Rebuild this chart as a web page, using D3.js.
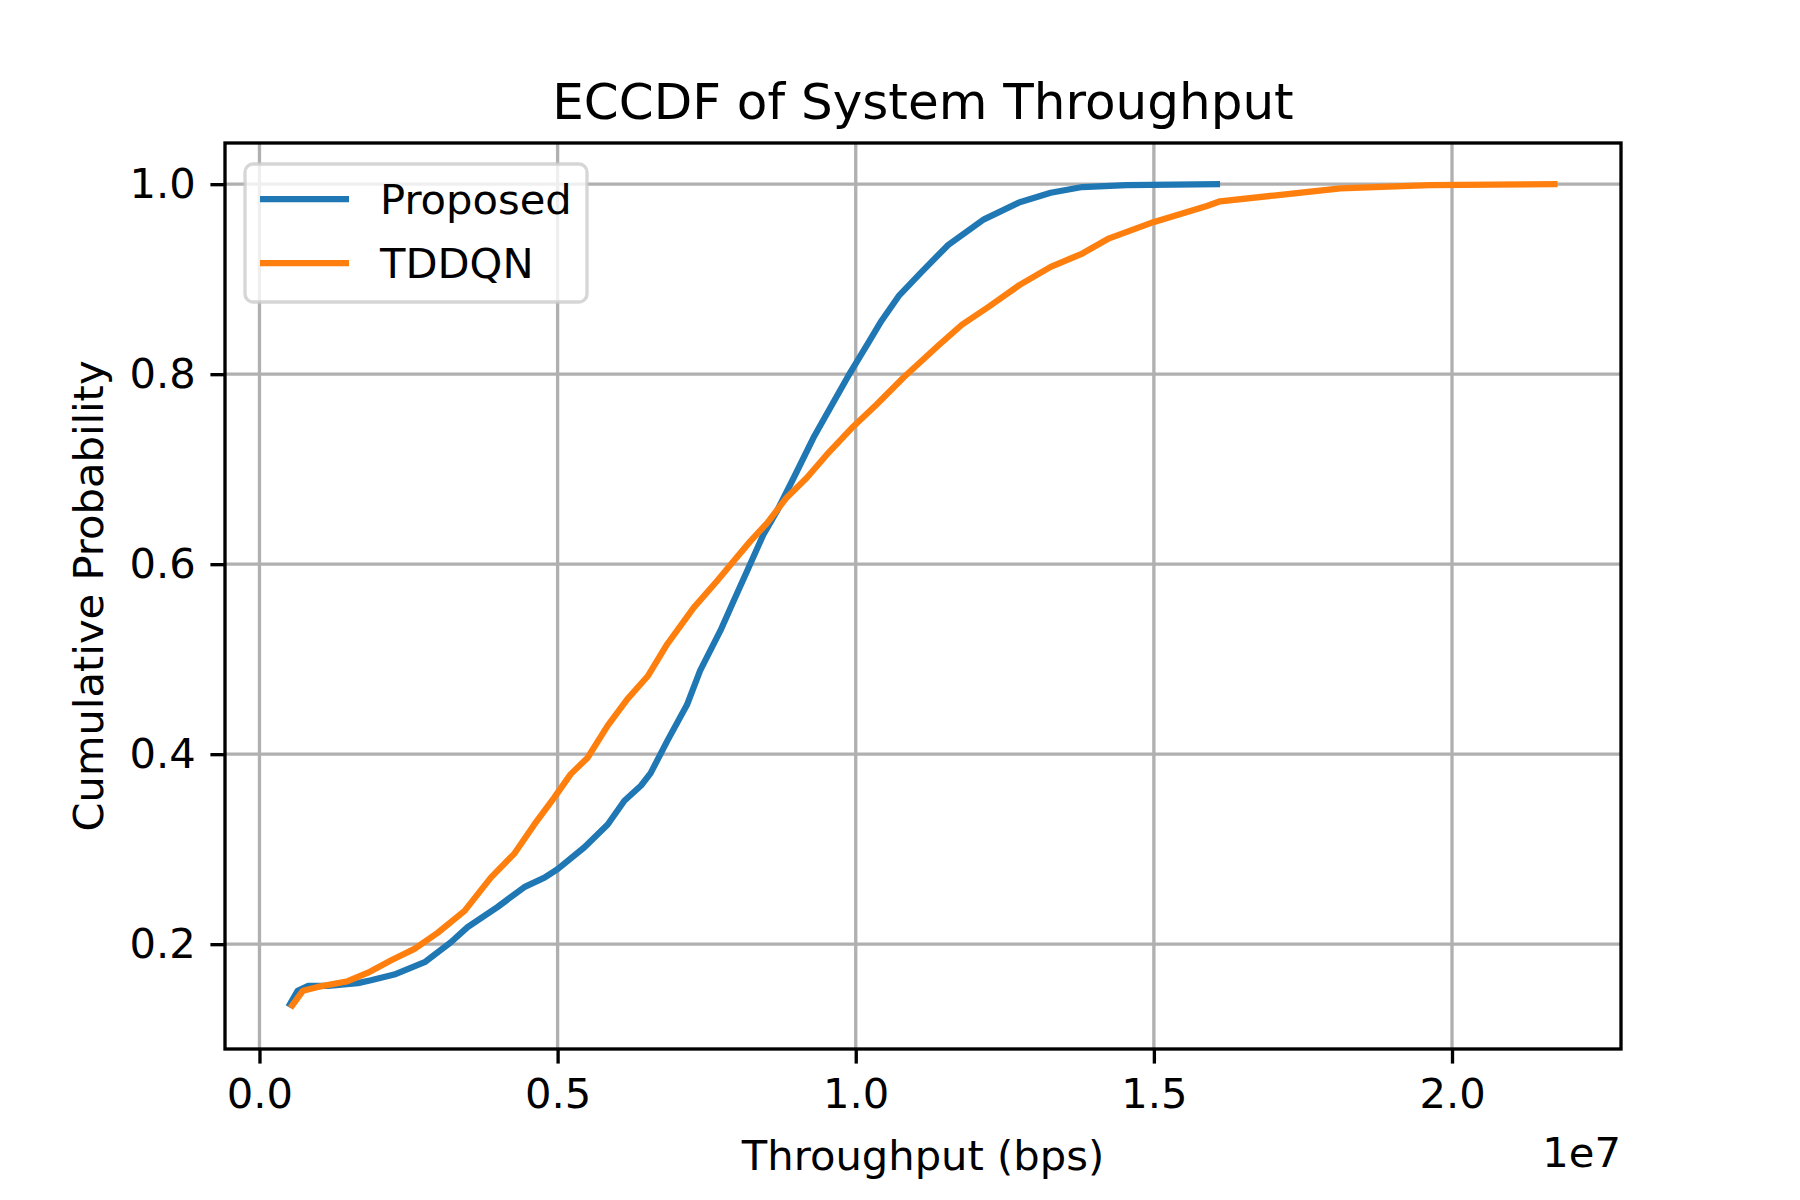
<!DOCTYPE html>
<html>
<head>
<meta charset="utf-8">
<script src="https://cdn.jsdelivr.net/npm/d3@7"></script>
<style>
  body { margin: 0; background: #fff; }
  text { font-family: "DejaVu Sans", sans-serif; fill: #000; }
</style>
</head>
<body>
<svg id="chart" width="1800" height="1200"></svg>
<script>
// throughput in units of 1e7 bps (the axis offset), probability
const proposedThroughput = [0.0486, 0.064, 0.081, 0.115, 0.165, 0.187, 0.226, 0.277, 0.321, 0.349,
                            0.399, 0.444, 0.478, 0.500, 0.545, 0.584, 0.612, 0.640, 0.656, 0.684,
                            0.717, 0.739, 0.773, 0.795, 0.818, 0.845, 0.868, 0.896, 0.929, 0.963,
                            0.991, 1.021, 1.043, 1.073, 1.111, 1.155, 1.215, 1.275, 1.327, 1.380,
                            1.454, 1.611]
const proposedProb       = [0.134, 0.151, 0.156, 0.156, 0.159, 0.162, 0.168, 0.181, 0.202, 0.218,
                            0.239, 0.260, 0.270, 0.279, 0.302, 0.326, 0.351, 0.367, 0.380, 0.414,
                            0.452, 0.488, 0.530, 0.561, 0.593, 0.631, 0.656, 0.691, 0.733, 0.771,
                            0.802, 0.833, 0.856, 0.883, 0.908, 0.936, 0.963, 0.981, 0.991, 0.997,
                            0.999, 1.000]

const tddqnThroughput = [0.052, 0.073, 0.098, 0.148, 0.182, 0.221, 0.260, 0.299, 0.344, 0.388,
                         0.427, 0.461, 0.494, 0.522, 0.550, 0.584, 0.617, 0.651, 0.684, 0.728,
                         0.767, 0.795, 0.823, 0.851, 0.884, 0.918, 0.951, 0.996, 1.035, 1.081,
                         1.140, 1.178, 1.223, 1.275, 1.327, 1.380, 1.425, 1.499, 1.589, 1.611,
                         1.701, 1.813, 1.963, 2.177]
const tddqnProb       = [0.133, 0.151, 0.155, 0.161, 0.170, 0.183, 0.195, 0.212, 0.235, 0.270,
                         0.295, 0.326, 0.354, 0.379, 0.396, 0.430, 0.458, 0.482, 0.516, 0.554,
                         0.582, 0.603, 0.624, 0.643, 0.670, 0.691, 0.715, 0.745, 0.768, 0.797,
                         0.831, 0.852, 0.871, 0.894, 0.913, 0.927, 0.943, 0.960, 0.977, 0.982,
                         0.988, 0.9955, 0.999, 1.000]

const seriesNames = ['Proposed', 'TDDQN']
const seriesColors = ['#1f77b4', '#ff7f0e']
const xTicks = [0.0, 0.5, 1.0, 1.5, 2.0]
const yTicks = [0.2, 0.4, 0.6, 0.8, 1.0]

const pt = 300 / 72   // matplotlib points -> px at 300 dpi

let plotLeft   = 225,
    plotRight  = 1621,
    plotTop    = 143,
    plotBottom = 1049,
    svg    = d3.select('#chart'),
    series = [
      d3.zip(proposedThroughput, proposedProb),
      d3.zip(tddqnThroughput, tddqnProb)
    ],
    xExt   = d3.extent(proposedThroughput.concat(tddqnThroughput)),
    yExt   = d3.extent(proposedProb.concat(tddqnProb)),
    xPad   = (xExt[1] - xExt[0]) * 0.05,
    yPad   = (yExt[1] - yExt[0]) * 0.05,
    xScale = d3.scaleLinear()
                .domain([xExt[0] - xPad, xExt[1] + xPad])
                .range([plotLeft, plotRight]),
    yScale = d3.scaleLinear()
                .domain([yExt[0] - yPad, yExt[1] + yPad])
                .range([plotBottom, plotTop])

// grid
svg.append('g')
    .selectAll('line')
    .data(xTicks)
    .enter()
    .append('line')
    .attr('x1', d => xScale(d)).attr('x2', d => xScale(d))
    .attr('y1', plotTop).attr('y2', plotBottom)
    .attr('stroke', '#b0b0b0')
    .attr('stroke-width', 0.8 * pt)

svg.append('g')
    .selectAll('line')
    .data(yTicks)
    .enter()
    .append('line')
    .attr('y1', d => yScale(d)).attr('y2', d => yScale(d))
    .attr('x1', plotLeft).attr('x2', plotRight)
    .attr('stroke', '#b0b0b0')
    .attr('stroke-width', 0.8 * pt)

// curves
let line = d3.line()
    .x(d => xScale(d[0]))
    .y(d => yScale(d[1]))

svg.append('g')
    .selectAll('path')
    .data(series)
    .enter()
    .append('path')
    .attr('d', line)
    .attr('fill', 'none')
    .attr('stroke', (d, i) => seriesColors[i])
    .attr('stroke-width', 1.5 * pt)
    .attr('stroke-linecap', 'butt')
    .attr('stroke-linejoin', 'round')

// axes
let xAxis = svg.append('g')
    .attr('transform', `translate(0, ${plotBottom})`)
    .call(d3.axisBottom(xScale)
        .tickValues(xTicks)
        .tickFormat(d3.format('.1f'))
        .tickSizeInner(3.5 * pt)
        .tickSizeOuter(0)
        .tickPadding(3.5 * pt))

let yAxis = svg.append('g')
    .attr('transform', `translate(${plotLeft}, 0)`)
    .call(d3.axisLeft(yScale)
        .tickValues(yTicks)
        .tickFormat(d3.format('.1f'))
        .tickSizeInner(3.5 * pt)
        .tickSizeOuter(0)
        .tickPadding(3.5 * pt))

;[xAxis, yAxis].forEach(a => {
    a.select('.domain').remove()
    a.selectAll('.tick line').attr('stroke', '#000').attr('stroke-width', 0.8 * pt)
    a.selectAll('.tick text')
        .style('font-family', '"DejaVu Sans", sans-serif')
        .style('font-size', (10 * pt) + 'px')
        .attr('fill', '#000')
})

// spines
svg.append('rect')
    .attr('x', plotLeft).attr('y', plotTop)
    .attr('width', plotRight - plotLeft).attr('height', plotBottom - plotTop)
    .attr('fill', 'none')
    .attr('stroke', '#000')
    .attr('stroke-width', 0.8 * pt)

// texts
svg.append('text')
    .attr('x', (plotLeft + plotRight) / 2).attr('y', 119)
    .attr('text-anchor', 'middle')
    .style('font-size', (12 * pt) + 'px')
    .text('ECCDF of System Throughput')

svg.append('text')
    .attr('x', (plotLeft + plotRight) / 2).attr('y', 1170)
    .attr('text-anchor', 'middle')
    .style('font-size', (10 * pt) + 'px')
    .text('Throughput (bps)')

svg.append('text')
    .attr('transform', `translate(103, ${(plotTop + plotBottom) / 2}) rotate(-90)`)
    .attr('text-anchor', 'middle')
    .style('font-size', (10 * pt) + 'px')
    .text('Cumulative Probability')

svg.append('text')
    .attr('x', plotRight).attr('y', 1167)
    .attr('text-anchor', 'end')
    .style('font-size', (10 * pt) + 'px')
    .text('1e7')

// legend
let legend = svg.append('g')

legend.append('rect')
    .attr('x', 245).attr('y', 164)
    .attr('width', 342).attr('height', 138)
    .attr('rx', 8).attr('ry', 8)
    .attr('fill', '#fff').attr('fill-opacity', 0.8)
    .attr('stroke', '#cccccc').attr('stroke-opacity', 0.8)
    .attr('stroke-width', 0.8 * pt)

let rows = legend.selectAll('g.row')
    .data(seriesNames)
    .enter()
    .append('g')
    .attr('class', 'row')
    .attr('transform', (d, i) => `translate(0, ${199 + i * 64})`)

rows.append('line')
    .attr('x1', 260).attr('x2', 349)
    .attr('stroke', (d, i) => seriesColors[i])
    .attr('stroke-width', 1.5 * pt)

rows.append('text')
    .attr('x', 380).attr('y', 15)
    .style('font-size', (10 * pt) + 'px')
    .text(d => d)
</script>
</body>
</html>
